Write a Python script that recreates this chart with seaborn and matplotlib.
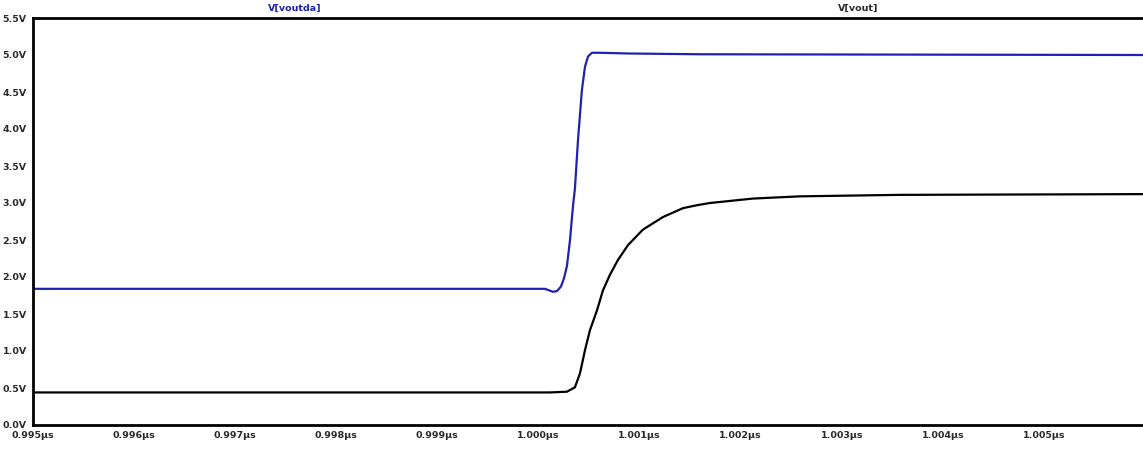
import matplotlib
matplotlib.use("Agg")
import matplotlib.pyplot as plt
import pandas as pd
import seaborn as sns

# time points in microseconds
t_vout = [0.995000, 1.000114, 1.000282, 1.000361, 1.000411, 1.000460, 1.000509,
          1.000579, 1.000638, 1.000707, 1.000786, 1.000885, 1.001033, 1.001231,
          1.001429, 1.001568, 1.001696, 1.002122, 1.002587, 1.003576, 1.006000]
v_vout = [0.44, 0.44, 0.45, 0.51, 0.70, 1.01, 1.28,
          1.55, 1.82, 2.03, 2.23, 2.43, 2.64, 2.81,
          2.93, 2.97, 3.00, 3.06, 3.09, 3.11, 3.12]

t_voutda = [0.995000, 1.000064, 1.000104, 1.000143, 1.000183, 1.000222, 1.000252,
            1.000282, 1.000312, 1.000341, 1.000361, 1.000391, 1.000430, 1.000460,
            1.000490, 1.000529, 1.000608, 1.000905, 1.001597, 1.006000]
v_voutda = [1.84, 1.84, 1.82, 1.80, 1.81, 1.87, 1.98,
            2.15, 2.50, 2.95, 3.20, 3.85, 4.53, 4.84,
            4.98, 5.03, 5.03, 5.02, 5.01, 5.00]

x_ticks = [0.995, 0.996, 0.997, 0.998, 0.999, 1.000, 1.001, 1.002, 1.003, 1.004, 1.005]
y_ticks = [0.0, 0.5, 1.0, 1.5, 2.0, 2.5, 3.0, 3.5, 4.0, 4.5, 5.0, 5.5]

blue = "#1f22b0"
text_col = "#2a2a2a"

sns.set_style("white")
plt.rcParams["font.family"] = ["DejaVu Sans"]

df = pd.concat([
    pd.DataFrame({"t": t_voutda, "v": v_voutda, "trace": "V[voutda]"}),
    pd.DataFrame({"t": t_vout, "v": v_vout, "trace": "V[vout]"}),
])

fig = plt.figure(figsize=(11.43, 4.49), dpi=100)
ax = fig.add_axes([33 / 1143, 24 / 449, 1 - 33 / 1143, 407 / 449])

sns.lineplot(data=df, x="t", y="v", hue="trace", palette={"V[voutda]": blue, "V[vout]": "black"},
             estimator=None, sort=False, linewidth=1.6, legend=False, ax=ax)

ax.set_xlim(0.995, 1.00598)
ax.set_ylim(0, 5.5)
ax.set_xticks(x_ticks)
ax.set_xticklabels([f"{v:.3f}\u00b5s" for v in x_ticks])
ax.set_yticks(y_ticks)
ax.set_yticklabels([f"{v:.1f}V" for v in y_ticks])
ax.set_xlabel("")
ax.set_ylabel("")

for lab in ax.get_xticklabels() + ax.get_yticklabels():
    lab.set_fontsize(6.8)
    lab.set_fontweight("bold")
    lab.set_color(text_col)
ax.tick_params(axis="both", direction="out", length=4, width=1.5, color="black", pad=0.5)

for side in ["left", "bottom", "top"]:
    ax.spines[side].set_color("black")
    ax.spines[side].set_linewidth(2)
ax.spines["right"].set_visible(False)

# trace names above the plot
fig.text(295 / 1143, 1 - 8 / 449, "V[voutda]", color=blue, fontsize=6.8, fontweight="bold",
         ha="center", va="center")
fig.text(858 / 1143, 1 - 8 / 449, "V[vout]", color=text_col, fontsize=6.8, fontweight="bold",
         ha="center", va="center")

fig.savefig("out.png", dpi=100)
